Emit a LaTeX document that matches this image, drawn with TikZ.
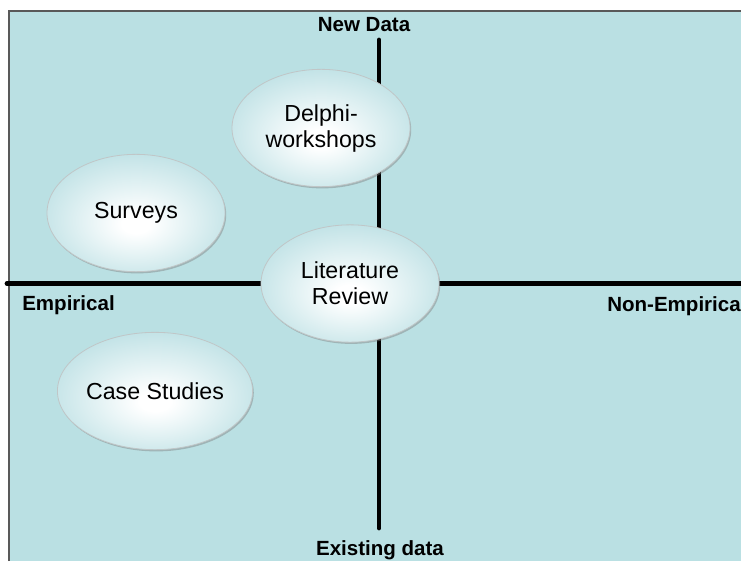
\documentclass[tikz,border=0pt]{standalone}
\usepackage{fontspec}
\setmainfont{Liberation Sans}
\usetikzlibrary{shapes.geometric, shadows}
\definecolor{bgteal}{RGB}{186, 224, 227}
\definecolor{ellteal}{RGB}{188, 224, 228}
\definecolor{rimgray}{RGB}{150, 160, 162}
\pgfdeclareradialshading{ellglow}{\pgfpoint{0bp}{-5bp}}{color(0bp)=(white); color(4bp)=(white); color(30bp)=(ellteal); color(50bp)=(ellteal)}

\begin{document}
\begin{tikzpicture}[x=0.75pt, y=-0.75pt,
  bubble/.style={ellipse, draw=rimgray!60!white, line width=0.6pt, shading=ellglow, minimum width=133.5pt, minimum height=88pt, inner sep=0pt, align=center, font=\fontsize{17.4}{19.5}\selectfont, drop shadow={shadow xshift=0.9pt, shadow yshift=-1.3pt, opacity=0.45}},
  axislabel/.style={font=\fontsize{15.4}{18}\selectfont\bfseries, inner sep=0pt, anchor=base},
  axisline/.style={line width=3.6pt, line cap=round},
]
  % backdrop
  \useasboundingbox (0,0) rectangle (741,561);
  \fill[bgteal] (9,11) rectangle (741,561);
  \draw[gray!70!black, line width=0.8pt] (9,561) -- (9,11) -- (741,11);
  % axes
  \coordinate (ntop) at (379,40);
  \coordinate (nbot) at (379,528);
  \coordinate (nleft) at (7,283.5);
  \coordinate (nright) at (741,283.5);
  \draw[axisline] (ntop) -- (nbot);
  \draw[axisline] (nleft) -- (nright);
  % methods
  \node[bubble] (delphi) at (321,128) {Delphi-\\workshops};
  \node[bubble] (surveys) at (136,213) {Surveys};
  \node[bubble] (litrev) at (350,283.5) {Literature\\Review};
  \node[bubble] (cases) at (155,391) {Case Studies};
  % axis labels
  \node[axislabel] (newdata) at (364,31.7) {New Data};
  \node[axislabel] (existdata) at (380,555) {Existing data};
  \node[axislabel, anchor=base west] (empir) at (22,310) {Empirical};
  \node[axislabel, anchor=base west] (nonempir) at (607,311.5) {Non-Empirica};
\end{tikzpicture}
\end{document}
